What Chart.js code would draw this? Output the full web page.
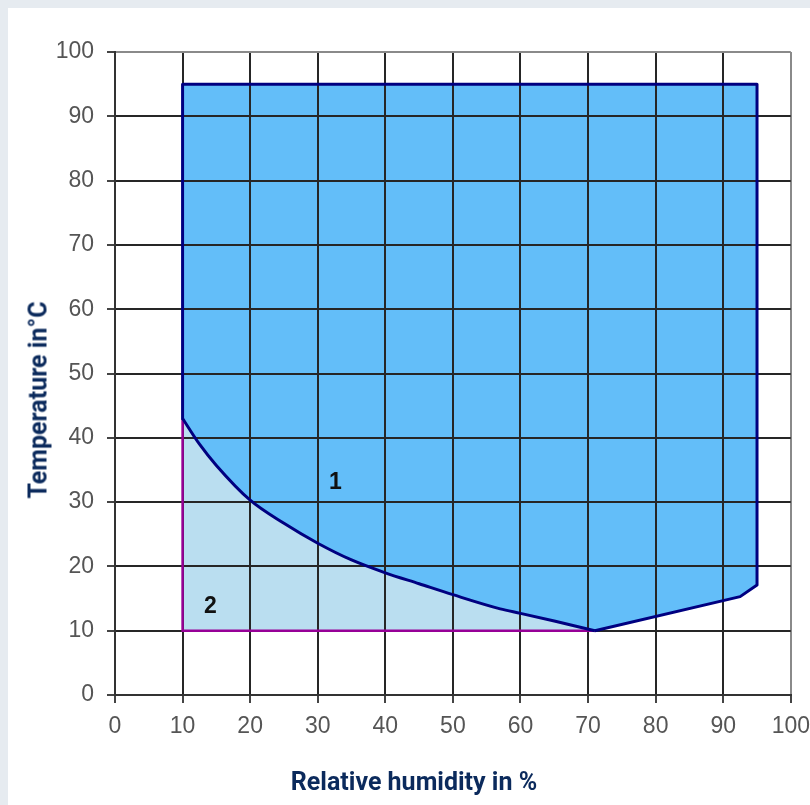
<!DOCTYPE html>
<html>
<head>
<meta charset="utf-8">
<title>Temperature / humidity range</title>
<script src="https://cdn.jsdelivr.net/npm/chart.js@4.4.0/dist/chart.umd.min.js"></script>
<style>
html,body{margin:0;padding:0;background:#e6ebf0;overflow:hidden;}
#panel{position:absolute;left:8px;top:8px;width:802px;height:797px;background:#fff;overflow:hidden;}
#wrap{position:absolute;left:0;top:0;width:812px;height:797px;}
.axis-title{position:absolute;font-family:Roboto,sans-serif;font-weight:700;font-size:25px;line-height:25px;color:#0b2a5c;white-space:nowrap;}
#xTitle{left:414px;top:769px;transform:translateX(-50%);}
#yTitle{left:38px;top:400px;transform:translate(-50%,-50%) rotate(-90deg);}
</style>
</head>
<body>
<div id="panel"><div id="wrap"><canvas id="chartRange"></canvas></div></div>
<div class="axis-title" id="yTitle">Temperature in°C</div>
<div class="axis-title" id="xTitle">Relative humidity in %</div>
<script>
// lower limit curve of range 1 (relative humidity %, temperature °C)
const CURVE_RH = [10, 12.5, 15, 20, 25, 30, 35, 40, 45, 50, 57, 60, 65, 71];
const CURVE_T  = [43, 39, 35.7, 30.3, 26.7, 23.6, 21, 19, 17.3, 15.6, 13.4, 12.7, 11.5, 10];

// rest of range 1 outline, going on from the end of the curve
const RANGE1_RH = [71, 92.5, 95, 95, 10, 10];
const RANGE1_T  = [10, 15.3, 17.1, 95, 95, 43];

// corners of range 2 below the curve
const RANGE2_RH = [10, 10];
const RANGE2_T  = [10, 43];

// purple edge of range 2
const EDGE2_RH = [10, 10, 71];
const EDGE2_T  = [43, 10, 10];

const LABEL_TEXT = ["1", "2"];
const LABEL_RH = [32.6, 14.1];
const LABEL_T  = [33, 13.8];

const TICKS_MIN = 0, TICKS_MAX = 100, TICKS_STEP = 10;

const pts = (xs, ys) => xs.map((v, i) => ({x: v, y: ys[i]}));

const curve = pts(CURVE_RH, CURVE_T);
const range1 = curve.concat(pts(RANGE1_RH, RANGE1_T));
const range2 = curve.concat(pts(RANGE2_RH, RANGE2_T));

const zoneLabels = {
  id: "zoneLabels",
  afterDatasetsDraw(chart){
    const {ctx, scales:{x, y}} = chart;
    ctx.save();
    ctx.font = "bold 23px 'Liberation Sans', Arial, sans-serif";
    ctx.fillStyle = "#111";
    ctx.textAlign = "center";
    ctx.textBaseline = "middle";
    LABEL_TEXT.forEach((t, i) => {
      ctx.fillText(t, x.getPixelForValue(LABEL_RH[i]), y.getPixelForValue(LABEL_T[i]));
    });
    ctx.restore();
  }
};

const gridColor = c => (c.tick && c.tick.value === TICKS_MAX) ? "#8a8a8a" : "#262626";
const tickFont = {family: "'Liberation Sans', Arial, sans-serif", size: 23};
const noPoint = {pointRadius: 0, pointHoverRadius: 0, showLine: true};

new Chart(document.getElementById("chartRange"), {
  type: "scatter",
  data: {
    datasets: [
      {
        label: "Range 1 curve",
        data: curve,
        ...noPoint,
        fill: false,
        borderColor: "#000080",
        borderWidth: 3,
        cubicInterpolationMode: "monotone"
      },
      {
        label: "Range 1 edge",
        data: pts(RANGE1_RH, RANGE1_T),
        ...noPoint,
        fill: false,
        borderColor: "#000080",
        borderWidth: 3,
        borderJoinStyle: "round"
      },
      {
        label: "Range 2 edge",
        data: pts(EDGE2_RH, EDGE2_T),
        ...noPoint,
        fill: false,
        borderColor: "#970097",
        borderWidth: 2.5
      },
      {
        label: "Range 1",
        data: range1,
        ...noPoint,
        fill: "shape",
        backgroundColor: "#63bef9",
        borderColor: "rgba(0,0,0,0)",
        borderWidth: 0
      },
      {
        label: "Range 2",
        data: range2,
        ...noPoint,
        fill: "shape",
        backgroundColor: "#badef0",
        borderColor: "rgba(0,0,0,0)",
        borderWidth: 0
      }
    ]
  },
  options: {
    responsive: true,
    maintainAspectRatio: false,
    animation: false,
    events: [],
    layout: {padding: {left: 0, top: 44, right: 10, bottom: 0}},
    plugins: {
      legend: {display: false},
      tooltip: {enabled: false},
      filler: {drawTime: "beforeDraw"}
    },
    scales: {
      x: {
        type: "linear",
        min: TICKS_MIN,
        max: TICKS_MAX,
        ticks: {stepSize: TICKS_STEP, color: "#555", font: tickFont, padding: 10, maxRotation: 0, autoSkip: false},
        grid: {color: gridColor, lineWidth: 2, tickLength: 8, tickColor: "#444"},
        border: {color: "#333", width: 2},
        afterFit: s => { s.height = 110; }
      },
      y: {
        type: "linear",
        min: TICKS_MIN,
        max: TICKS_MAX,
        ticks: {stepSize: TICKS_STEP, color: "#555", font: tickFont, padding: 13, autoSkip: false},
        grid: {color: gridColor, lineWidth: 2, tickLength: 8, tickColor: "#444"},
        border: {color: "#333", width: 2},
        afterFit: s => { s.width = 107; }
      }
    }
  },
  plugins: [zoneLabels]
});
</script>
</body>
</html>
